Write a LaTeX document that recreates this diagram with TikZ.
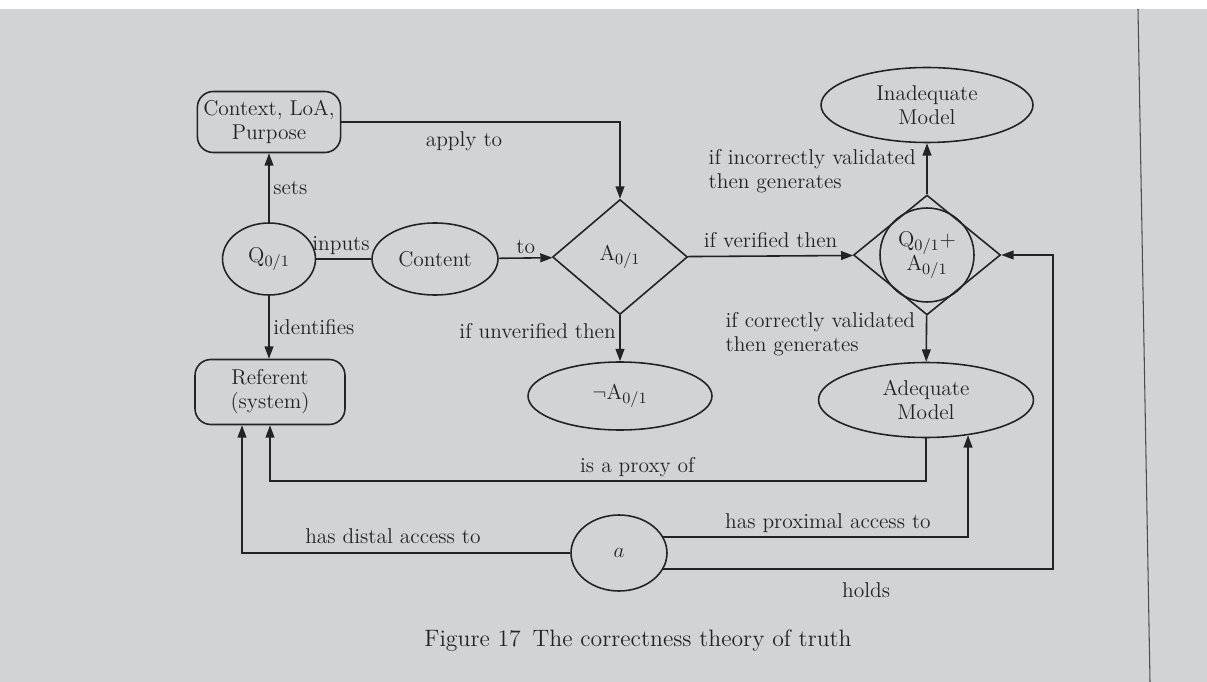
\documentclass[tikz,border=0pt]{standalone}
\usetikzlibrary{shapes.geometric, arrows.meta, calc}
\definecolor{pagegray}{RGB}{210,211,213}
\definecolor{inkgray}{RGB}{35,35,35}

\begin{document}
\begin{tikzpicture}[
        x=0.02cm, y=-0.02cm,
        font=\fontsize{12.2}{13.6}\selectfont,
        every node/.style={text=inkgray},
        oval/.style={ellipse, draw=inkgray, line width=0.9pt, align=center, inner sep=0pt},
        roundbox/.style={rectangle, draw=inkgray, line width=0.9pt, rounded corners=9pt, align=center},
        decision/.style={diamond, draw=inkgray, line width=0.9pt, inner sep=0pt},
        link/.style={draw=inkgray, line width=0.9pt},
        arr/.style={link, -{Triangle[length=7pt, width=5pt]}},
        lbl/.style={inner sep=2pt}
    ]
        \useasboundingbox (0,0) rectangle (1207,682);
        \fill[pagegray] (0,0) rectangle (1207,682);
        \fill[white] (0,0) rectangle (1207,9);
        \draw[gray!60!black, line width=0.6pt] (1138,9) -- (1150,682);

        \node[roundbox, minimum width=2.86cm, minimum height=1.22cm] (context) at (269,122) {Context, LoA,\\Purpose};
        \node[oval, minimum width=1.86cm, minimum height=1.44cm] (q) at (269,259) {Q$_{0/1}$};
        \node[oval, minimum width=2.52cm, minimum height=1.44cm] (content) at (435,259) {Content};
        \node[decision, minimum width=2.7cm, minimum height=2.3cm] (aq) at (620,257) {A$_{0/1}$};
        \node[oval, minimum width=3.68cm, minimum height=1.36cm] (nota) at (620,396) {$\neg$A$_{0/1}$};
        \node[decision, minimum width=2.94cm, minimum height=2.4cm] (qa) at (927,255) {};
        \node[circle, draw=inkgray, line width=0.9pt, minimum size=1.88cm, inner sep=0pt, align=center] (qacirc) at (qa.center) {Q$_{0/1}$+\\A$_{0/1}$};
        \node[oval, minimum width=4.24cm, minimum height=1.5cm] (inadequate) at (927,105) {Inadequate\\Model};
        \node[oval, minimum width=4.3cm, minimum height=1.5cm] (adequate) at (926,400) {Adequate\\Model};
        \node[roundbox, minimum width=3cm, minimum height=1.3cm] (referent) at (270,392) {Referent\\(system)};
        \node[oval, minimum width=1.92cm, minimum height=1.52cm] (agent) at (619,553) {$a$};

        \draw[arr] (q) -- node[right, lbl] {sets} (context);
        \draw[link] (q) -- node[above, lbl, pos=0.45] {inputs} (content);
        \draw[arr] (content) -- node[above, lbl] {to} (aq);
        \draw[arr] (context.east) -| node[pos=0.22, below=3pt, lbl] {apply to} (aq.north);
        \draw[arr] (q) -- node[right, lbl] {identifies} (q |- referent.north);
        \draw[arr] (aq) -- node[left, lbl, pos=0.35] {if unverified then} (nota);
        \draw[arr] (aq) -- node[above=2pt, lbl] {if verified then} (qa);
        \draw[arr] (qa) -- node[left=4pt, lbl, align=left, pos=0.45] {if incorrectly validated\\then generates} (inadequate);
        \draw[arr] (qa) -- node[left=4pt, lbl, align=left, pos=0.4] {if correctly validated\\then generates} (adequate);

        \coordinate (proxybend) at (270,481);
        \draw[arr] (adequate.south) |- node[pos=0.72, above, lbl] {is a proxy of} (proxybend) -- (referent.south);
        \draw[arr] (agent.west) -| node[pos=0.27, above=3pt, lbl] {has distal access to} ($(referent.south)+(-28,0)$);
        \draw[arr] (agent.20) -| node[pos=0.27, above, lbl] {has proximal access to} (adequate.-40);
        \draw[arr] (agent.-20) -| node[pos=0.26, below=5pt, lbl] {holds} ($(qa.east)+(52,0)$) -- (qa.east);

        \node[font=\fontsize{13.5}{15}\selectfont] (caption) at (638,641) {Figure 17\enspace The correctness theory of truth};
    \end{tikzpicture}
\end{document}
